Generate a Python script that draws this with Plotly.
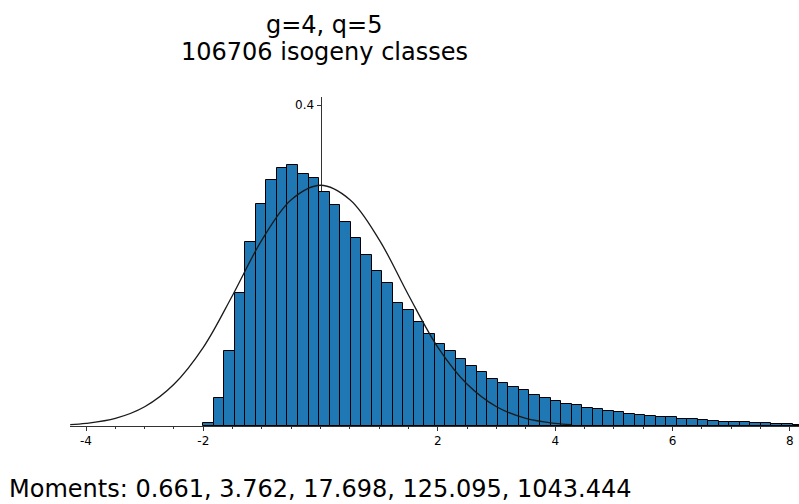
import numpy as np
import plotly.graph_objects as go

# Histogram data (density), bins start at -2 with equal widths
bin_start = -2.0
bin_width = 0.1794
bar_heights = [
    0.004, 0.035, 0.094, 0.166, 0.229, 0.277, 0.307, 0.322, 0.325, 0.314,
    0.309, 0.292, 0.276, 0.254, 0.234, 0.213, 0.193, 0.178, 0.153, 0.145,
    0.129, 0.115, 0.102, 0.093, 0.083, 0.075, 0.067, 0.058, 0.054, 0.048,
    0.045, 0.039, 0.035, 0.0316, 0.028, 0.026, 0.023, 0.021, 0.019, 0.017,
    0.015, 0.0133, 0.012, 0.0108, 0.0108, 0.0087, 0.0083, 0.0071, 0.0058, 0.005,
    0.0046, 0.0046, 0.0037, 0.0033, 0.0025, 0.0025, 0.0017,
]

# Reference curve
curve_x = [-4.27, -4.0, -3.5, -3.0, -2.5, -2.0, -1.5, -1.0, -0.5, 0.0,
           0.5, 1.0, 1.5, 2.0, 2.5, 3.0, 3.5, 4.0, 4.27]
curve_y = [0.0017, 0.0033, 0.0095, 0.024, 0.052, 0.098, 0.163, 0.232, 0.282, 0.300,
           0.282, 0.232, 0.163, 0.098, 0.052, 0.024, 0.0095, 0.0033, 0.0017]

x_tick_vals = [-4, -2, 0, 2, 4, 6, 8]
x_tick_text = ["-4", "-2", "", "2", "4", "6", "8"]
y_tick_vals = [0.4]
y_tick_text = ["0.4"]

title_line1 = "g=4, q=5"
title_line2 = "106706 isogeny classes"
moments_text = "Moments: 0.661, 3.762, 17.698, 125.095, 1043.444"

centers = [bin_start + bin_width * (i + 0.5) for i in range(len(bar_heights))]

FONT = "DejaVu Sans"
W, H = 799, 504
ML, MR, MT, MB = 70, 0, 97, 78
xr = [-4.273, 8.157]
yr = [0, 0.41]
plot_w = W - ML - MR
plot_h = H - MT - MB
y_axis_pos = (0 - xr[0]) / (xr[1] - xr[0])

fig = go.Figure()
fig.add_trace(go.Bar(
    x=centers, y=bar_heights, width=bin_width,
    marker=dict(color="#1f77b4", line=dict(color="black", width=1)),
    hoverinfo="skip", showlegend=False,
))
fig.add_trace(go.Scatter(
    x=curve_x, y=curve_y, mode="lines",
    line=dict(color="#1a1a1a", width=1.3, shape="spline", smoothing=1.0),
    hoverinfo="skip", showlegend=False,
))

def px_to_paper_y(py):
    return (H - MB - py) / plot_h

def px_to_paper_x(px):
    return (px - ML) / plot_w

annotations = [
    dict(text=title_line1, x=px_to_paper_x(324), y=px_to_paper_y(25), xref="paper", yref="paper",
         xanchor="center", yanchor="middle", showarrow=False,
         font=dict(family=FONT, size=24, color="black")),
    dict(text=title_line2, x=px_to_paper_x(324), y=px_to_paper_y(52), xref="paper", yref="paper",
         xanchor="center", yanchor="middle", showarrow=False,
         font=dict(family=FONT, size=24, color="black")),
    dict(text=moments_text, x=px_to_paper_x(7), y=px_to_paper_y(489), xref="paper", yref="paper",
         xanchor="left", yanchor="middle", showarrow=False,
         font=dict(family=FONT, size=24, color="black")),
]

fig.update_layout(
    width=W, height=H,
    margin=dict(l=ML, r=MR, t=MT, b=MB, pad=0),
    plot_bgcolor="white", paper_bgcolor="white",
    bargap=0,
    showlegend=False,
    annotations=annotations,
    xaxis=dict(
        range=xr, showgrid=False, zeroline=False,
        showline=True, linecolor="#333333", linewidth=1,
        ticks="outside", ticklen=4, tickwidth=1, tickcolor="#333333",
        tickmode="array", tickvals=x_tick_vals, ticktext=x_tick_text,
        tickfont=dict(family=FONT, size=12, color="black"),
        minor=dict(ticks="outside", ticklen=2, tickwidth=1, tickcolor="#333333",
                   tickmode="array", tickvals=list(np.arange(-4, 8.01, 0.5))),
        layer="below traces", fixedrange=True,
    ),
    yaxis=dict(
        range=yr, showgrid=False, zeroline=False,
        anchor="free", position=y_axis_pos,
        showline=True, linecolor="#333333", linewidth=1,
        ticks="outside", ticklen=4, tickwidth=1, tickcolor="#333333",
        tickmode="array", tickvals=y_tick_vals, ticktext=y_tick_text,
        tickfont=dict(family=FONT, size=12, color="black"),
        layer="below traces", fixedrange=True,
    ),
)

fig.write_html(
    "out.html",
    config={"displayModeBar": False},
    post_script="document.body.style.margin='0px';document.body.style.padding='0px';",
)
